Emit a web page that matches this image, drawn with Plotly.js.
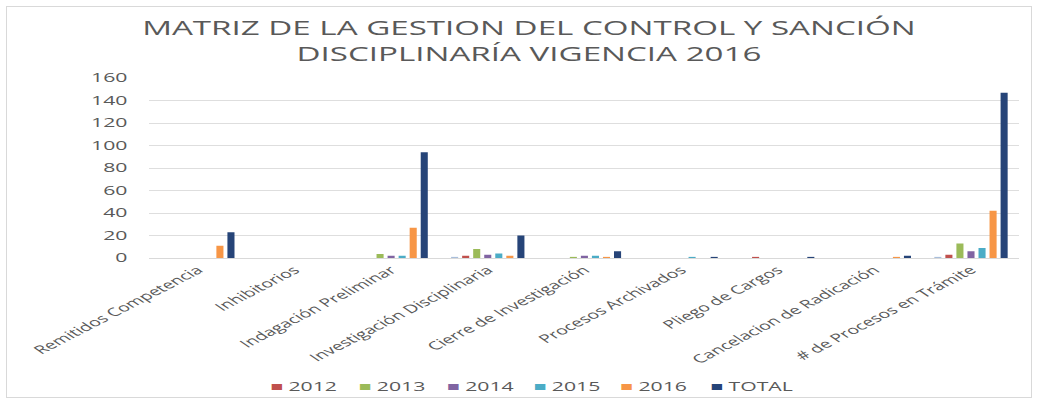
<!DOCTYPE html>
<html>
<head>
<meta charset="utf-8">
<script src="https://cdn.plot.ly/plotly-3.0.1.min.js"></script>
<style>
html,body{margin:0;padding:0;background:#fff;overflow:hidden;}
#wrap{position:absolute;left:0;top:0;width:1038px;height:402px;overflow:hidden;}
#chart{width:611px;height:402px;transform-origin:0 0;}
#frame{position:absolute;left:6px;top:6px;width:1024px;height:390px;border:1px solid #d9d9d9;pointer-events:none;}
</style>
</head>
<body>
<div id="wrap"><div id="chart"></div></div>
<div id="frame"></div>
<script>
const categories = ["Remitidos Competencia","Inhibitorios","Indagación Preliminar","Investigación Disciplinaria","Cierre de Investigación","Procesos Archivados","Pliego de Cargos","Cancelacion de Radicación","# de Procesos en Trámite"];
const seriesOther = [0,0,0,1,0,0,0,0,1];
const s2012 = [0,0,0,2,0,0,1,0,3];
const s2013 = [0,0,3.5,8,1,0,0,0,13];
const s2014 = [0,0,2,3,2,0,0,0,6];
const s2015 = [0,0,2,4,2,1,0,0,9];
const s2016 = [11,0,27,2,1,0,0,1,42];
const sTotal = [23,0,94,20,6,1,1,2,147];
const yTicks = [0,20,40,60,80,100,120,140,160];
const legendNames = ["2012","2013","2014","2015","2016","TOTAL"];

// horizontal stretch of the original picture
const FULLW = 1038, INW = 611, S = FULLW / INW;
document.getElementById("chart").style.transform = "scaleX(" + S + ")";
const ML = 88, MR = 11, MT = 78, MB = 144;
const PW = INW - ML - MR;

const defs = [
  {name:"", y:seriesOther, color:"#a9bedb"},
  {name:"2012", y:s2012, color:"#c0504d"},
  {name:"2013", y:s2013, color:"#9bbb59"},
  {name:"2014", y:s2014, color:"#8064a2"},
  {name:"2015", y:s2015, color:"#4bacc6"},
  {name:"2016", y:s2016, color:"#f79646"},
  {name:"TOTAL", y:sTotal, color:"#264478"}
];
const traces = defs.map(d => ({
  type:"bar", x:categories, y:d.y, name:d.name, showlegend:false,
  marker:{color:d.color}, hoverinfo:"x+y"
}));

// legend entries (final-pixel left edges)
const legendLeft = [266, 355, 443, 530, 617, 706];
const legendColors = defs.slice(1).map(d => d.color);
const annotations = legendNames.map((n, i) => ({
  xref:"paper", yref:"paper",
  x:(legendLeft[i] / S - ML) / PW, y:-0.712,
  xanchor:"left", yanchor:"middle", showarrow:false,
  text:'<span style="color:' + legendColors[i] + '">■</span> ' + n,
  font:{family:"Open Sans, sans-serif", size:12.5, color:"#595959"}
}));

const layout = {
  width:INW, height:402,
  margin:{l:ML, r:MR, t:MT, b:MB, autoexpand:false},
  paper_bgcolor:"rgba(0,0,0,0)", plot_bgcolor:"rgba(0,0,0,0)",
  barmode:"group", bargap:0.2, bargroupgap:0.36,
  title:{text:"MATRIZ DE LA GESTION DEL CONTROL Y SANCIÓN<br>DISCIPLINARÍA VIGENCIA 2016",
    x:0.5096, xanchor:"center", y:0.912, yanchor:"top",
    font:{family:"Open Sans, sans-serif", size:19.5, color:"#595959", lineposition:"none"}},
  xaxis:{type:"category", tickangle:-41, showline:true, linecolor:"#d9d9d9", linewidth:1,
    ticks:"", showgrid:false, automargin:false,
    tickfont:{family:"Open Sans, sans-serif", size:11.5, color:"#595959"}},
  yaxis:{range:[0,160], tickvals:yTicks, ticktext:yTicks.map(String),
    showgrid:true, gridcolor:"#dedede", gridwidth:1, zeroline:false, showline:false,
    ticks:"", ticklabelstandoff:12, automargin:false,
    tickfont:{family:"Open Sans, sans-serif", size:12.5, color:"#595959"}},
  annotations:annotations,
  showlegend:false
};
Plotly.newPlot("chart", traces, layout, {displayModeBar:false, staticPlot:true});
</script>
</body>
</html>
